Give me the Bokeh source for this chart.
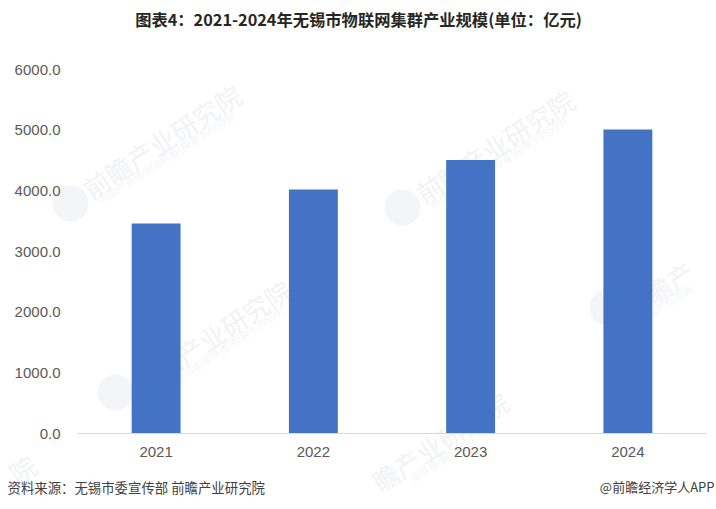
from bokeh.plotting import figure
from bokeh.models import Label, BoxAnnotation, ColumnDataSource, FixedTicker, NumeralTickFormatter, LinearAxis
from bokeh.embed import file_html
from bokeh.resources import INLINE

years = ["2021", "2022", "2023", "2024"]
values = [3460, 4020, 4510, 5010]
y_ticks = [0, 1000, 2000, 3000, 4000, 5000, 6000]
title_text = "图表4：2021-2024年无锡市物联网集群产业规模(单位：亿元)"
source_text = "资料来源：无锡市委宣传部 前瞻产业研究院"
credit_text = "@前瞻经济学人APP"
watermark_text = "前瞻产业研究院"
watermark_sub = "中国产业咨询领导者(股票 839599)"
CJK = "Noto Sans CJK SC"
LATIN = "Liberation Sans"

W, H = 716, 509
LEFT, RIGHT, TOP, BOTTOM = 77, 706, 69, 433          # plot area in canvas pixels
x_scale = (len(years)) / (RIGHT - LEFT)              # category widths per pixel
y_scale = max(y_ticks) / (BOTTOM - TOP)              # value units per pixel
x_pos = list(range(len(years)))

p = figure(width=W, height=H,
           x_range=(-0.5 - LEFT * x_scale, len(years) - 0.5 + (W - RIGHT) * x_scale),
           y_range=(-(H - BOTTOM) * y_scale, max(y_ticks) + TOP * y_scale),
           x_axis_type=None, y_axis_type=None,
           output_backend="svg", toolbar_location=None,
           min_border_left=0, min_border_right=0, min_border_top=0, min_border_bottom=0)
p.outline_line_color = None
p.grid.visible = False
p.background_fill_color = "white"

# faint watermark, behind the marks
marks = [(85, 190, watermark_text), (418, 195, watermark_text), (135, 385, watermark_text),
         (625, 310, "前瞻产"), (374, 483, "瞻产业研究院"), (22, 468, "院")]
subs = [(98, 201, watermark_sub), (431, 206, watermark_sub), (148, 396, watermark_sub),
        (638, 321, "中国产业咨询"), (410, 479, "领导者(股票 839599)")]
for wx, wy, txt in marks:
    p.add_layout(Label(x=wx, y=wy, x_units="canvas", y_units="canvas", text=txt,
                       angle=33, angle_units="deg", text_font=CJK, text_font_size="26px",
                       text_color="#f1f2f4", text_align="left" if len(txt) > 1 else "center",
                       text_baseline="middle", level="underlay"))
for wx, wy, txt in subs:
    p.add_layout(Label(x=wx, y=wy, x_units="canvas", y_units="canvas", text=txt,
                       angle=33, angle_units="deg", text_font=CJK, text_font_size="10.5px",
                       text_color="#f5f6f7", text_align="left", text_baseline="middle",
                       level="underlay"))
for cx, cy in [(70, 203), (402, 207), (115, 392), (607, 307)]:
    p.add_layout(BoxAnnotation(left=cx - 18, right=cx + 18, top=cy - 18, bottom=cy + 18,
                               left_units="canvas", right_units="canvas",
                               top_units="canvas", bottom_units="canvas",
                               border_radius=18, fill_color="#f4f5f7", fill_alpha=1,
                               line_color=None, level="underlay", editable=False))

src = ColumnDataSource(dict(x=x_pos, value=values))
p.vbar(x="x", top="value", bottom=0, width=0.311, source=src, color="#4472C4", line_color=None)

yaxis = LinearAxis(fixed_location=-0.5, ticker=FixedTicker(ticks=y_ticks),
                   formatter=NumeralTickFormatter(format="0.0"), bounds=(0, max(y_ticks)),
                   axis_line_color=None, major_tick_line_color=None, minor_tick_line_color=None,
                   major_label_text_font=LATIN, major_label_text_font_size="15px",
                   major_label_text_color="#595959", major_label_standoff=11)
xaxis = LinearAxis(fixed_location=0, ticker=FixedTicker(ticks=x_pos),
                   major_label_overrides=dict(zip(x_pos, years)),
                   bounds=(-0.5, len(years) - 0.5),
                   axis_line_color="#d9d9d9", axis_line_width=1,
                   major_tick_line_color=None, minor_tick_line_color=None,
                   major_label_text_font=LATIN, major_label_text_font_size="15px",
                   major_label_text_color="#595959", major_label_standoff=7)
p.add_layout(yaxis, "left")
p.add_layout(xaxis, "below")

p.add_layout(Label(x=358, y=18, x_units="canvas", y_units="canvas", text=title_text,
                   text_font=CJK, text_font_size="16.3px", text_font_style="bold",
                   text_color="#262626", text_align="center", text_baseline="middle"))
p.add_layout(Label(x=7, y=486, x_units="canvas", y_units="canvas", text=source_text,
                   text_font=CJK, text_font_size="13.4px", text_color="#404040",
                   text_align="left", text_baseline="middle"))
p.add_layout(Label(x=714, y=486, x_units="canvas", y_units="canvas", text=credit_text,
                   text_font=CJK, text_font_size="13px", text_color="#404040",
                   text_align="right", text_baseline="middle"))

open("out.html", "w").write(file_html(p, INLINE))
